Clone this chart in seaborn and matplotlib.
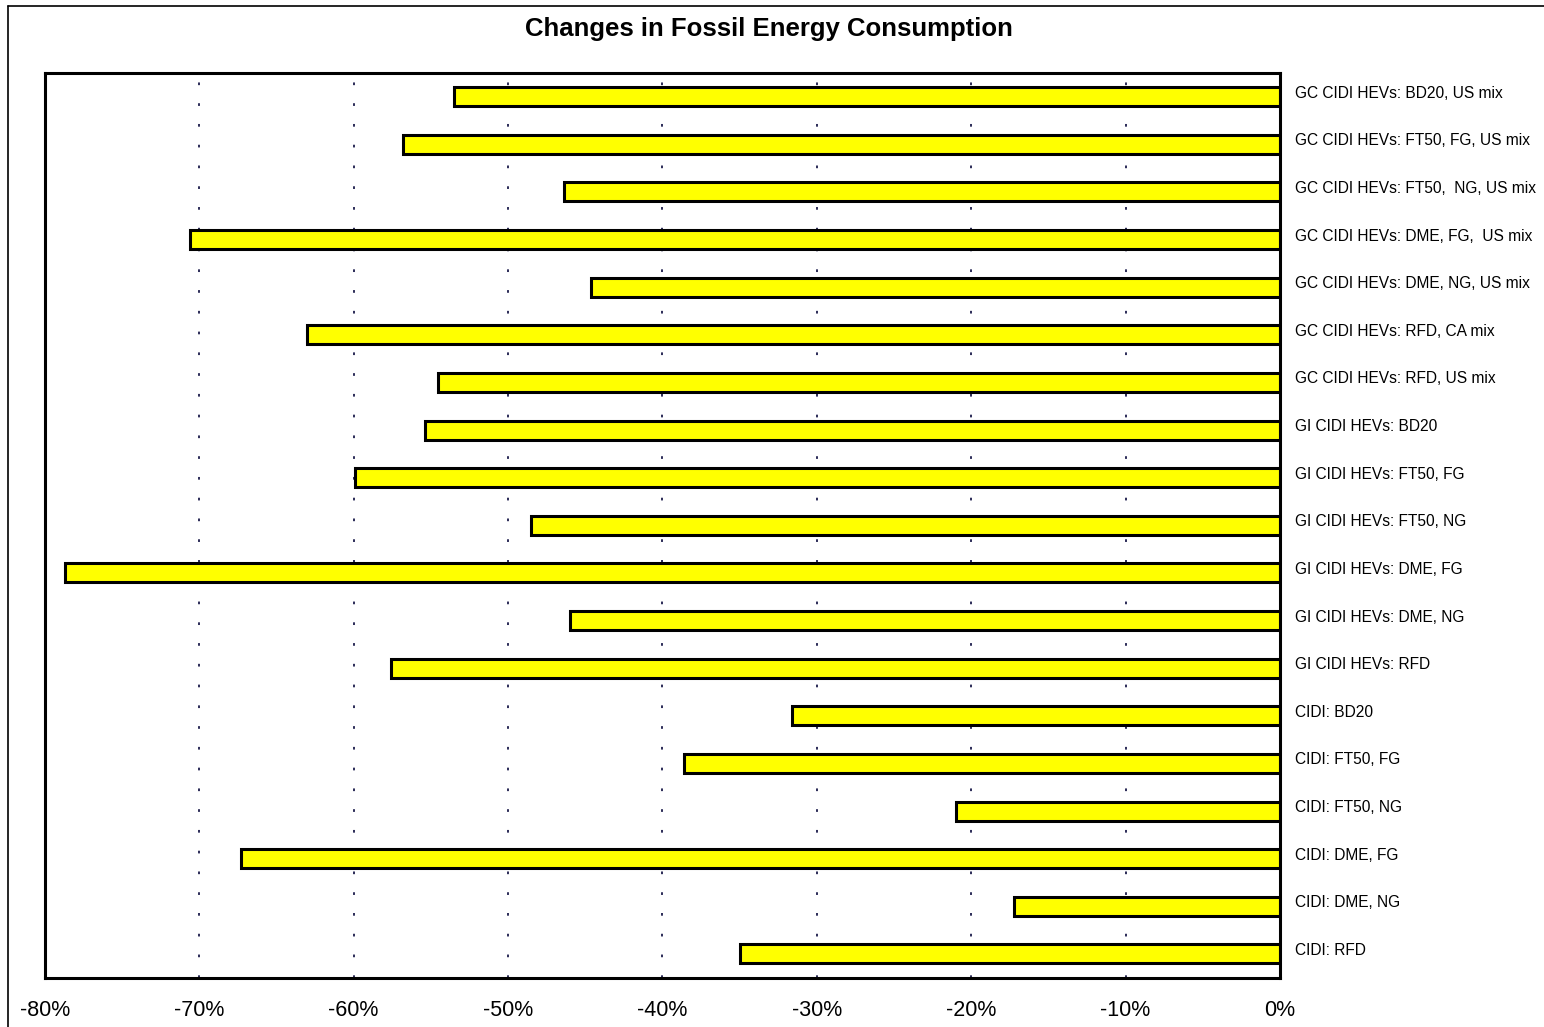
import matplotlib.pyplot as plt
import matplotlib.transforms as mtransforms
import pandas as pd
import seaborn as sns
from matplotlib.lines import Line2D
from matplotlib.ticker import FuncFormatter

pathways = [
    'GC CIDI HEVs: BD20, US mix',
    'GC CIDI HEVs: FT50, FG, US mix',
    'GC CIDI HEVs: FT50,  NG, US mix',
    'GC CIDI HEVs: DME, FG,  US mix',
    'GC CIDI HEVs: DME, NG, US mix',
    'GC CIDI HEVs: RFD, CA mix',
    'GC CIDI HEVs: RFD, US mix',
    'GI CIDI HEVs: BD20',
    'GI CIDI HEVs: FT50, FG',
    'GI CIDI HEVs: FT50, NG',
    'GI CIDI HEVs: DME, FG',
    'GI CIDI HEVs: DME, NG',
    'GI CIDI HEVs: RFD',
    'CIDI: BD20',
    'CIDI: FT50, FG',
    'CIDI: FT50, NG',
    'CIDI: DME, FG',
    'CIDI: DME, NG',
    'CIDI: RFD',
]
change_pct = [-53.5, -56.8, -46.4, -70.6, -44.6, -63.0, -54.5, -55.4, -59.9, -48.5,
              -78.7, -46.0, -57.6, -31.6, -38.6, -21.0, -67.3, -17.2, -35.0]
x_ticks = [-80, -70, -60, -50, -40, -30, -20, -10, 0]

df = pd.DataFrame({'Pathway': pathways, 'Change': change_pct})

sns.set_style('white')
plt.rcParams['font.family'] = ['Liberation Sans', 'DejaVu Sans']
plt.rcParams['text.color'] = 'black'
plt.rcParams['xtick.color'] = 'black'
plt.rcParams['ytick.color'] = 'black'

fig = plt.figure(figsize=(15.44, 10.27), dpi=100)
ax = fig.add_axes([0.029, 0.048, 0.8, 0.881])

sns.barplot(data=df, x='Change', y='Pathway', orient='h', color='#FFFF00',
            saturation=1, edgecolor='black', linewidth=2.2, width=0.4, ax=ax)

ax.set_xlim(-80, 0)
ax.set_xticks(x_ticks)
ax.xaxis.set_major_formatter(FuncFormatter(lambda v, p: f'{int(round(v))}%'))
ax.tick_params(axis='x', labelsize=15.5, length=5, width=1.2, direction='out', pad=11)
ax.yaxis.tick_right()
ax.tick_params(axis='y', labelsize=11.2, length=0, pad=11)
shift = mtransforms.ScaledTranslation(0, 5 / 100, fig.dpi_scale_trans)
for lbl in ax.get_yticklabels():
    lbl.set_transform(lbl.get_transform() + shift)
ax.set_xlabel('')
ax.set_ylabel('')

for v in x_ticks[1:-1]:
    ax.axvline(v, color='#1a1a4a', linestyle=(0, (1.5, 10)), linewidth=1.3, zorder=0)

for s in ax.spines.values():
    s.set_visible(True)
    s.set_color('black')
    s.set_linewidth(2.2)

fig.text(0.498, 0.972, 'Changes in Fossil Energy Consumption', ha='center', va='center',
         fontsize=18.5, fontweight='bold')

# outer page frame
fig.add_artist(Line2D([0.0055, 0.0055], [0.0, 0.994], color='black', lw=1.2))
fig.add_artist(Line2D([0.0055, 1.0], [0.994, 0.994], color='black', lw=1.2))

fig.savefig('out.png', dpi=100)
